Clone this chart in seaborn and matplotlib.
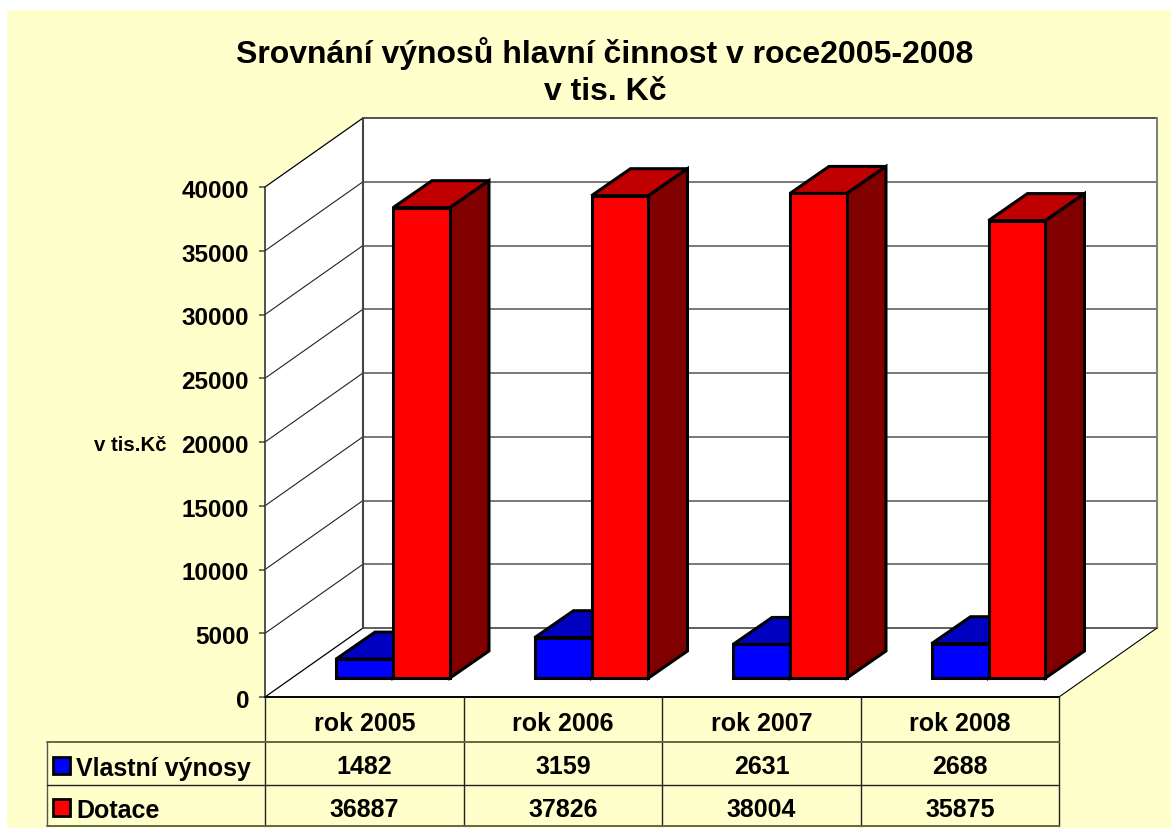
import pandas as pd
import seaborn as sns
import matplotlib.pyplot as plt
from matplotlib.patches import Polygon, Rectangle
from matplotlib.lines import Line2D
from matplotlib.transforms import ScaledTranslation

categories = ["rok 2005", "rok 2006", "rok 2007", "rok 2008"]
vlastni = [1482, 3159, 2631, 2688]
dotace = [36887, 37826, 38004, 35875]
y_ticks = [0, 5000, 10000, 15000, 20000, 25000, 30000, 35000, 40000]
series_names = ["Vlastní výnosy", "Dotace"]

W, H = 1173, 829
YELLOW = "#FFFFCC"

sns.set_theme(style="white")
plt.rcParams["font.family"] = ["Liberation Sans", "DejaVu Sans"]
plt.rcParams["font.weight"] = "bold"

df = pd.DataFrame({
    "rok": categories * 2,
    "serie": [series_names[0]] * 4 + [series_names[1]] * 4,
    "hodnota": vlastni + dotace,
})


def fx(x):
    return x / W


def fy(y):
    return 1 - (y + 1) / H


def px_axes(fig, left, right, top, bottom, **kw):
    return fig.add_axes([fx(left), fy(bottom), (right - left) / W, (bottom - top) / H], **kw)


def fig_line(fig, xs, ys, color="black", lw=1.0, zorder=5):
    fig.add_artist(Line2D([fx(x) for x in xs], [fy(y) for y in ys], color=color, lw=lw,
                          transform=fig.transFigure, zorder=zorder))


fig = plt.figure(figsize=(W / 100, H / 100), dpi=100, facecolor="white")
fig.add_artist(Rectangle((fx(7), 0), (1171 - 7) / W, fy(10), transform=fig.transFigure,
                         facecolor=YELLOW, edgecolor="none", zorder=-5))

# walls, front plane of the chart
ax = px_axes(fig, 265, 1059, 187, 697)
ax.patch.set_visible(False)
ax.set_xlim(-0.5, 3.5)
ax.set_ylim(0, 40000)
for s in ax.spines.values():
    s.set_visible(False)
ax.set_xticks([])
ax.set_yticks(y_ticks)
ax.set_yticklabels([str(t) for t in y_ticks], fontsize=17.5, fontweight="bold", color="black")
ax.tick_params(axis="y", left=True, length=4.5, width=1.2, color="#555555", pad=7)
for lab in ax.get_yticklabels():
    lab.set_transform(lab.get_transform() + ScaledTranslation(0, -1 / 100, fig.dpi_scale_trans))

dx_wall = 98 / (794 / 4)
dy_wall = 69 / (510 / 40000)
x0, x1 = -0.5, 3.5
top = y_ticks[-1]
ax.add_patch(Polygon([(x0, 0), (x0 + dx_wall, dy_wall), (x0 + dx_wall, top + dy_wall), (x0, top)],
                     facecolor="white", edgecolor="none", clip_on=False, zorder=1))
ax.add_patch(Polygon([(x0 + dx_wall, dy_wall), (x1 + dx_wall, dy_wall), (x1 + dx_wall, top + dy_wall),
                      (x0 + dx_wall, top + dy_wall)],
                     facecolor="white", edgecolor="none", clip_on=False, zorder=1))
ax.add_patch(Polygon([(x0, 0), (x1, 0), (x1 + dx_wall, dy_wall), (x0 + dx_wall, dy_wall)],
                     facecolor="white", edgecolor="none", clip_on=False, zorder=1))
for t in y_ticks[1:-1]:
    ax.plot([x0 + dx_wall, x1 + dx_wall], [t + dy_wall, t + dy_wall], color="#555555", lw=1.1,
            clip_on=False, zorder=2)
    ax.plot([x0, x0 + dx_wall], [t, t + dy_wall], color="#222222", lw=0.8, clip_on=False, zorder=2)
ax.plot([x0, x0 + dx_wall], [top, top + dy_wall], color="black", lw=0.9, clip_on=False, zorder=2)
ax.plot([x0 + dx_wall, x1 + dx_wall], [top + dy_wall, top + dy_wall], color="#222222", lw=1.1,
        clip_on=False, zorder=2)
ax.plot([x0, x0 + dx_wall], [0, dy_wall], color="black", lw=0.9, clip_on=False, zorder=2)
ax.plot([x0 + dx_wall, x1 + dx_wall], [dy_wall, dy_wall], color="#333333", lw=1.1, clip_on=False, zorder=2)
ax.plot([x0 + dx_wall, x0 + dx_wall], [dy_wall, top + dy_wall], color="#444444", lw=1.5, clip_on=False, zorder=2)
ax.plot([x1 + dx_wall, x1 + dx_wall], [dy_wall, top + dy_wall], color="#808080", lw=1.5, clip_on=False, zorder=2)
ax.plot([x1, x1 + dx_wall], [0, dy_wall], color="black", lw=0.8, clip_on=False, zorder=2)
ax.plot([x0, x0], [0, top], color="#333333", lw=1.2, clip_on=False, zorder=2)
ax.plot([x0, x1], [0, 0], color="black", lw=1.4, clip_on=False, zorder=2)

# bars, sitting a little deeper inside the box
bar_ax = px_axes(fig, 293.75, 1087.75, 168, 678)
bar_ax.patch.set_visible(False)
sns.barplot(data=df, x="rok", y="hodnota", hue="serie", order=categories, hue_order=series_names,
            palette=["#0000FF", "#FF0000"], saturation=1, width=0.574, gap=0, dodge=True,
            edgecolor="black", linewidth=2.2, legend=False, ax=bar_ax)
bar_ax.set_xlim(-0.5, 3.5)
bar_ax.set_ylim(0, 40000)
bar_ax.axis("off")

dx_bar = 39 / (794 / 4)
dy_bar = 27 / (510 / 40000)
shades = [("#0000C0", "#000080"), ("#C00000", "#800000")]
for k, cont in enumerate(bar_ax.containers):
    for b in cont:
        x, w, h = b.get_x(), b.get_width(), b.get_height()
        b.set_zorder(3 + 2 * k + 1)
        b.set_clip_on(False)
        b.set_joinstyle("miter")
        bar_ax.add_patch(Polygon([(x, h), (x + dx_bar, h + dy_bar), (x + w + dx_bar, h + dy_bar), (x + w, h)],
                                 facecolor=shades[k][0], edgecolor="black", lw=2.2, clip_on=False,
                                 joinstyle="miter", zorder=3 + 2 * k))
        bar_ax.add_patch(Polygon([(x + w, 0), (x + w + dx_bar, dy_bar), (x + w + dx_bar, h + dy_bar), (x + w, h)],
                                 facecolor=shades[k][1], edgecolor="black", lw=2.2, clip_on=False,
                                 joinstyle="miter", zorder=3 + 2 * k))

# data table under the chart
col_x = [265, 464, 662, 861, 1059]
row_y = [697, 742, 785, 826]
for x in col_x:
    fig_line(fig, [x, x], [row_y[0], row_y[-1]], color="#222222", lw=1.0)
fig_line(fig, [47, 47], [row_y[1], row_y[-1]], color="#555555", lw=1.0)
fig_line(fig, [47, 1059], [row_y[1], row_y[1]], color="#666644", lw=1.4)
fig_line(fig, [47, 1059], [row_y[2], row_y[2]], color="#222222", lw=1.0)
fig_line(fig, [47, 1059], [row_y[3], row_y[3]], color="#666644", lw=1.4)

table_rows = [categories, vlastni, dotace]
row_text_y = [723, 766, 809]
for rt, vals in zip(row_text_y, table_rows):
    for i, v in enumerate(vals):
        fig.text(fx((col_x[i] + col_x[i + 1]) / 2), fy(rt), str(v), ha="center", va="center",
                 fontsize=18, fontweight="bold", color="black")

key_colors = ["#0000FF", "#FF0000"]
for name, c, yc in zip(series_names, key_colors, [766, 808]):
    fig.add_artist(Rectangle((fx(53), fy(yc + 8)), 17 / W, 17 / H, transform=fig.transFigure,
                             facecolor=c, edgecolor="black", lw=2.0, zorder=6))
    fig.text(fx(76), fy(yc + 2), name, ha="left", va="center", fontsize=18, fontweight="bold", color="black")

fig.text(fx(166), fy(445), "v tis.Kč", ha="right", va="center", fontsize=14.7, fontweight="bold", color="black")

fig.suptitle("Srovnání výnosů hlavní činnost v roce2005-2008\nv tis. Kč", x=fx(605), y=fy(71), ha="center",
             va="center", fontsize=23, fontweight="bold", color="black", linespacing=1.3)

fig.savefig("out.png", dpi=100)
